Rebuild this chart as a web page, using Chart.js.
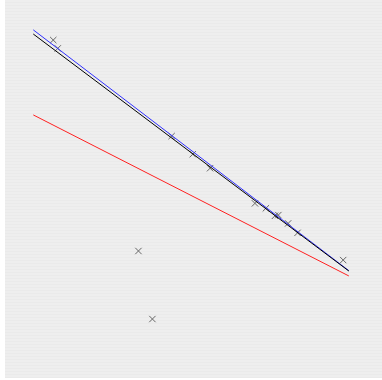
<!DOCTYPE html>
<html>
<head>
<meta charset="utf-8">
<script src="https://cdn.jsdelivr.net/npm/chart.js@4/dist/chart.umd.min.js"></script>
<style>
    html, body { margin: 0; padding: 0; background: #fff; }
    #wrap {
        position: absolute; left: 5px; top: 0; width: 377px; height: 378px;
        background: repeating-linear-gradient(to bottom, #eeeeee 0px, #eeeeee 2px, #eaeaea 2px, #eaeaea 3px);
    }
</style>
</head>
<body>
<div id="wrap"><canvas id="chart"></canvas></div>
<script>
// observed points
const pointX = [1.28, 1.40, 4.42, 4.98, 5.44, 6.63, 6.92, 7.16, 7.25, 7.51, 7.76, 8.97, 3.54, 3.91];
const pointY = [8.94, 8.72, 6.40, 5.92, 5.55, 4.62, 4.49, 4.29, 4.31, 4.09, 3.84, 3.12, 3.36, 1.56];

// fitted lines: start/end x and y
const lineX = [0.75, 9.12];
const blackY = [9.10, 2.83];
const blueY = [9.21, 2.84];
const redY = [6.96, 2.70];

const toXY = (xs, ys) => xs.map((x, i) => ({ x: x, y: ys[i] }));

const lineSet = (data, color) => ({
    type: 'line',
    data: data,
    borderColor: color,
    borderWidth: 1,
    pointRadius: 0,
    fill: false
});

new Chart(document.getElementById('chart'), {
    type: 'scatter',
    data: {
        datasets: [
            lineSet(toXY(lineX, redY), '#ff2020'),
            lineSet(toXY(lineX, blackY), '#000000'),
            lineSet(toXY(lineX, blueY), '#3030ff'),
            {
                data: toXY(pointX, pointY),
                pointStyle: 'crossRot',
                pointRadius: 4.5,
                borderColor: '#666666',
                borderWidth: 1
            }
        ]
    },
    options: {
        responsive: true,
        maintainAspectRatio: false,
        animation: false,
        layout: { padding: 0, autoPadding: false },
        plugins: { legend: { display: false }, tooltip: { enabled: false } },
        scales: {
            x: { type: 'linear', min: 0, max: 10, display: false },
            y: { type: 'linear', min: 0, max: 10, display: false }
        }
    }
});
</script>
</body>
</html>
